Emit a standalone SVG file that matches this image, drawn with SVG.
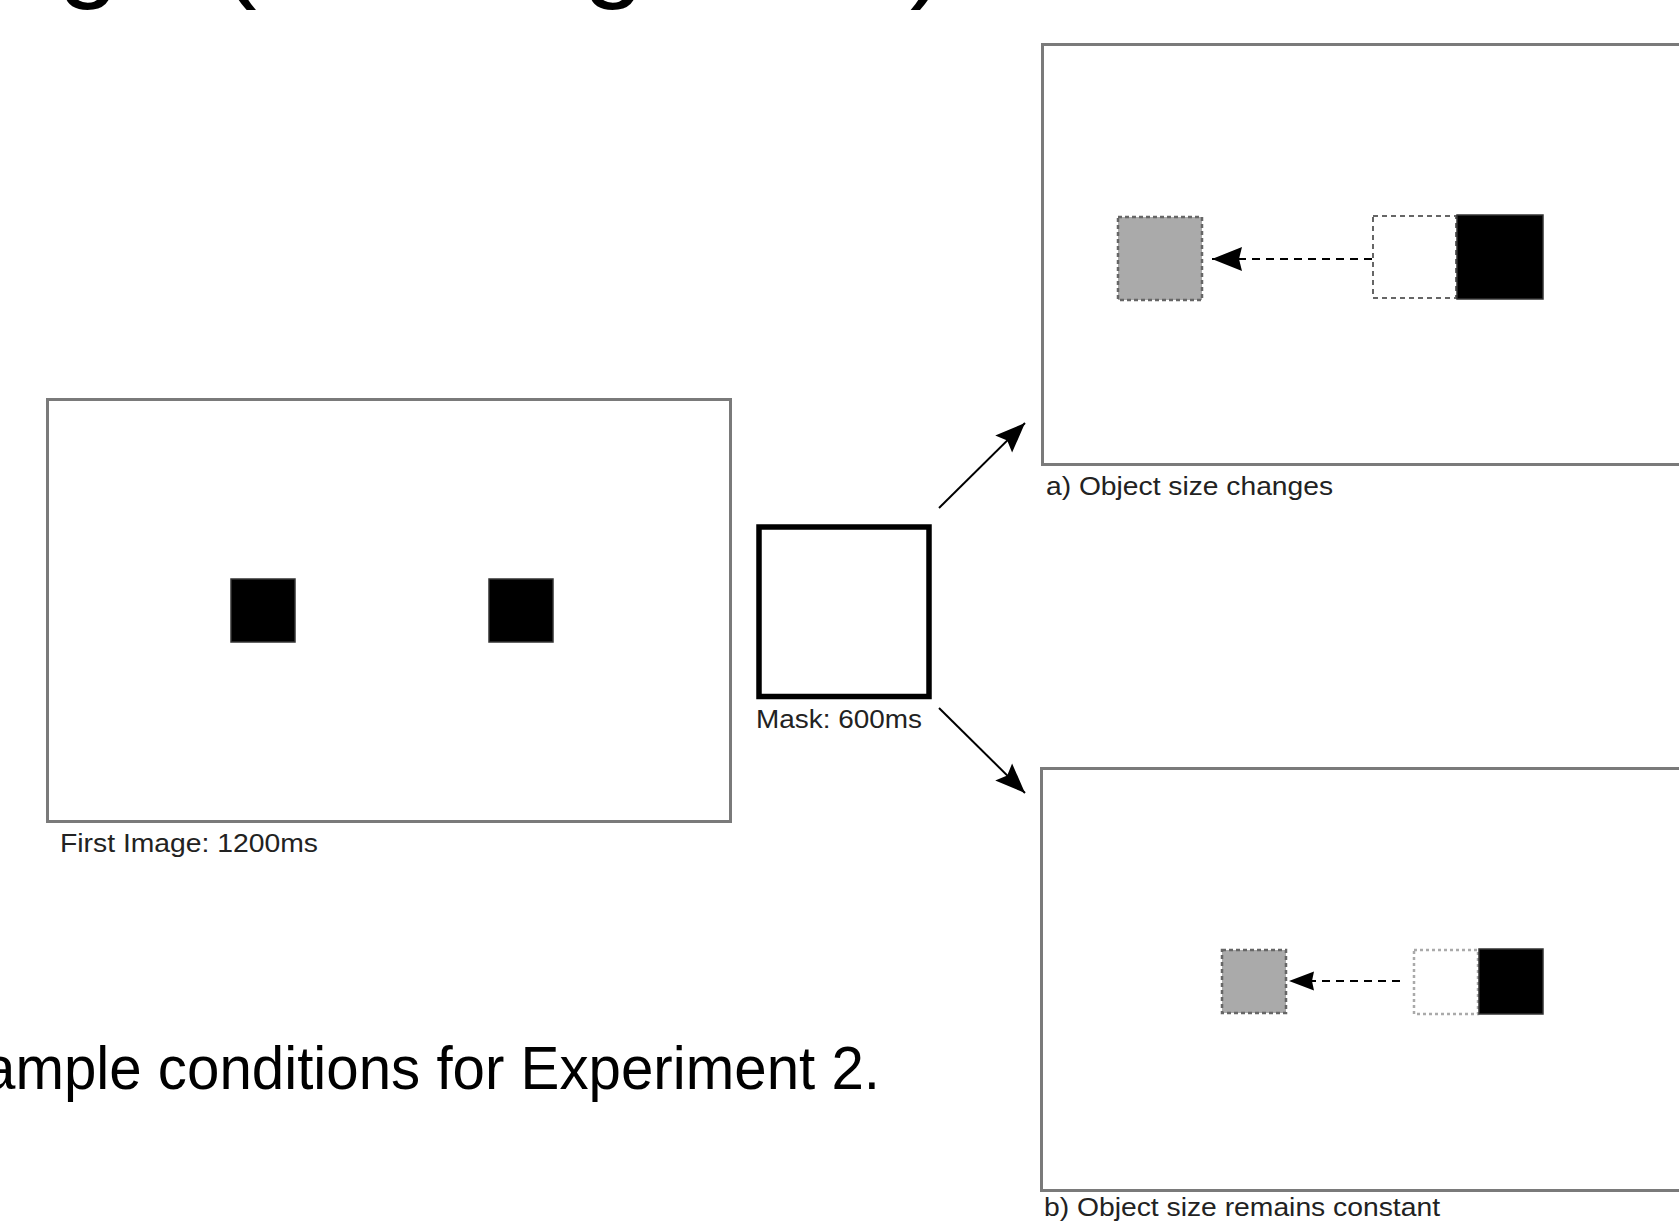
<svg xmlns="http://www.w3.org/2000/svg" width="1679" height="1222" viewBox="0 0 1679 1222">
<style>
  .lbl { font-family: "Liberation Sans", Arial, sans-serif; font-size: 26px; fill: #222; }
  .big { font-family: "Liberation Sans", Arial, sans-serif; fill: #000; }
  .frame { fill: #fff; stroke: #7a7a7a; stroke-width: 3; }
  .solid { fill: #000; stroke: #333; stroke-width: 1.5; }
  .moved { fill: #aaaaaa; stroke: #666; stroke-width: 2.5; stroke-dasharray: 4 3; }
  .ghost { fill: #fff; stroke: #666; stroke-width: 2; stroke-dasharray: 5 4; }
  .ghost2 { fill: #fff; stroke: #aaa; stroke-width: 2.5; stroke-dasharray: 3 3; }
  .conn { fill: none; stroke: #000; stroke-width: 2; }
  .dash { fill: none; stroke: #000; stroke-width: 2; stroke-dasharray: 8 6; }
</style>
<defs>
  <marker id="ah" markerUnits="userSpaceOnUse" markerWidth="34" markerHeight="28" refX="32" refY="13" orient="auto">
    <path d="M32,13 L2,1 L7,13 L2,25 Z" fill="#000"/>
  </marker>
  <marker id="ahs" markerUnits="userSpaceOnUse" markerWidth="32" markerHeight="28" refX="30" refY="13" orient="auto">
    <path d="M30,13 L0,1 L3,13 L0,25 Z" fill="#000"/>
  </marker>
  <marker id="ahb" markerUnits="userSpaceOnUse" markerWidth="26" markerHeight="22" refX="25" refY="10" orient="auto">
    <path d="M25,10 L0,0.5 L2,10 L0,19.5 Z" fill="#000"/>
  </marker>
</defs>
<rect x="0" y="0" width="1679" height="1222" fill="#fff"/>

<g id="title">
  <text class="big" font-size="110" x="58" y="-13">g</text>
  <text class="big" font-size="110" x="220" y="-13">(</text>
  <text class="big" font-size="110" x="583" y="-13">g</text>
  <text class="big" font-size="110" x="910" y="-13">)</text>
</g>

<g id="first-image">
  <rect class="frame" x="47.5" y="399.5" width="683" height="422"/>
  <rect class="solid" x="231" y="579" width="64" height="63"/>
  <rect class="solid" x="489" y="579" width="64" height="63"/>
  <text class="lbl" x="60" y="852" textLength="258" lengthAdjust="spacingAndGlyphs">First Image: 1200ms</text>
</g>

<g id="mask">
  <rect x="759" y="527" width="170" height="169.5" fill="#fff" stroke="#000" stroke-width="5.5"/>
  <text class="lbl" x="756" y="728" textLength="166" lengthAdjust="spacingAndGlyphs">Mask: 600ms</text>
</g>

<g id="condition-a">
  <rect class="frame" x="1042.5" y="44.5" width="700" height="420" stroke="#777"/>
  <rect class="moved" x="1118" y="217" width="84" height="83"/>
  <rect class="ghost" x="1373" y="216" width="83" height="82"/>
  <rect class="solid" x="1457" y="215" width="86" height="84"/>
  <path class="dash" d="M1372,259 L1212,259" marker-end="url(#ahs)"/>
  <text class="lbl" x="1046" y="495" textLength="287" lengthAdjust="spacingAndGlyphs">a) Object size changes</text>
</g>

<g id="condition-b">
  <rect class="frame" x="1041.5" y="768.5" width="700" height="422" stroke="#555"/>
  <rect class="moved" x="1222" y="950" width="64" height="63" stroke="#777"/>
  <rect class="ghost2" x="1414" y="950" width="64" height="64"/>
  <rect class="solid" x="1479" y="949" width="64" height="65" stroke="#555"/>
  <path class="dash" d="M1400,981 L1289,981" marker-end="url(#ahb)"/>
  <text class="lbl" x="1044" y="1216" textLength="396" lengthAdjust="spacingAndGlyphs">b) Object size remains constant</text>
</g>

<g id="caption">
  <text class="big" font-size="62" x="-17" y="1089" textLength="897" lengthAdjust="spacingAndGlyphs">ample conditions for Experiment 2.</text>
</g>

<g id="connectors">
  <path class="conn" d="M939,508 L1025,423" marker-end="url(#ah)"/>
  <path class="conn" d="M939,708 L1025,793" marker-end="url(#ah)"/>
</g>
</svg>
